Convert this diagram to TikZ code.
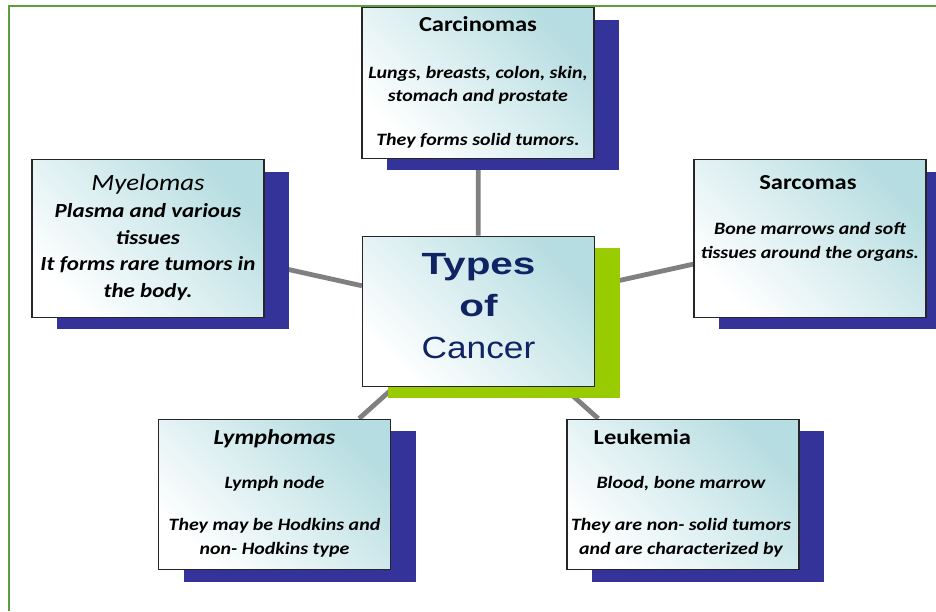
\documentclass[tikz,border=0pt]{standalone}
\usepackage{fontspec}
\setmainfont{Carlito}[FakeStretch=1.15]
\newfontfamily\coverfont{Liberation Sans}[FakeStretch=1.15]
\newfontfamily\coverwide{Liberation Sans}[FakeStretch=1.32]
\usepackage{tikz}
\usetikzlibrary{positioning,calc,shadows,backgrounds}

\definecolor{shadownavy}{RGB}{51,51,153}
\definecolor{limegreen}{RGB}{153,204,0}
\definecolor{cardteal}{RGB}{182,221,225}
\definecolor{linkgray}{RGB}{128,128,128}
\definecolor{framegreen}{RGB}{92,158,60}
\definecolor{titlenavy}{RGB}{16,36,100}

\tikzset{
  cardbase/.style={draw=black!85, line width=0.9pt, top color=cardteal, bottom color=white,
    shading angle=-45, minimum width=174pt, minimum height=113pt, inner sep=0pt},
  card/.style={cardbase, general shadow={fill=shadownavy, shadow xshift=19pt, shadow yshift=-9pt}},
  tallcard/.style={card, minimum height=118pt},
  corecard/.style={cardbase, general shadow={fill=limegreen, shadow xshift=19pt, shadow yshift=-8.5pt}},
  headtext/.style={font=\bfseries\fontsize{16}{19}\selectfont, inner sep=0pt, anchor=north},
  bodytext/.style={font=\bfseries\itshape\fontsize{13}{17.5}\selectfont, align=center, inner sep=0pt, anchor=north},
  link/.style={draw=linkgray, line width=3.6pt}
}

\begin{document}
\begin{tikzpicture}[x=0.75pt, y=-0.75pt]
  \clip (0,0) rectangle (936,611);

  % frame
  \draw[framegreen, line width=1.5pt] (9,611) -- (9,6) -- (936,6);

  % boxes
  \node[corecard] (core) at (478.5,311.5) {};
  \node[card] (carc) at (478,83) {};
  \node[tallcard] (myel) at (148,238.5) {};
  \node[tallcard] (sarc) at (810,238.5) {};
  \node[card] (lymph) at (274.5,494.5) {};
  \node[card] (leuk) at (683,494.5) {};

  % connectors behind the boxes
  \begin{scope}[on background layer]
    \draw[link] (core) -- (carc);
    \draw[link] (core) -- (myel);
    \draw[link] (core) -- (sarc);
    \draw[link] (core) -- (lymph);
    \draw[link] (core) -- (leuk);
  \end{scope}

  % texts
  \node[anchor=north, align=center, inner sep=0pt, text=titlenavy,
    font=\coverfont\fontsize{23}{31.5}\selectfont] (core-text) at ($(core.north)+(0,18)$)
    {{\coverwide\bfseries Types}\\{\coverwide\bfseries of}\\Cancer};

  \node[headtext] (carc-head) at ($(carc.north)+(0,9)$) {Carcinomas};
  \node[bodytext] (carc-body) at ($(carc.north)+(0,59)$)
    {Lungs, breasts, colon, skin,\\stomach and prostate\\[15pt]They forms solid tumors.};

  \node[bodytext, font=\bfseries\itshape\fontsize{15}{20}\selectfont] (myel-body) at ($(myel.north)+(0,15)$)
    {{\mdseries\fontsize{17.5}{20}\selectfont Myelomas}\\Plasma and various\\tissues\\It forms rare tumors in\\the body.};

  \node[headtext] (sarc-head) at ($(sarc.north)+(-2,16)$) {Sarcomas};
  \node[bodytext] (sarc-body) at ($(sarc.north)+(0,63)$)
    {Bone marrows and soft\\tissues around the organs.};

  \node[headtext, font=\bfseries\itshape\fontsize{16}{19}\selectfont] (lymph-head) at ($(lymph.north)+(0,11)$) {Lymphomas};
  \node[bodytext] (lymph-body) at ($(lymph.north)+(0,57)$)
    {Lymph node\\[14.5pt]They may be Hodkins and\\non- Hodkins type};

  \node[headtext, anchor=north west] (leuk-head) at ($(leuk.north west)+(27,11)$) {Leukemia};
  \node[bodytext] (leuk-body) at ($(leuk.north)+(-2,57)$)
    {Blood, bone marrow\\[14.5pt]They are non- solid tumors\\and are characterized by};
\end{tikzpicture}
\end{document}
